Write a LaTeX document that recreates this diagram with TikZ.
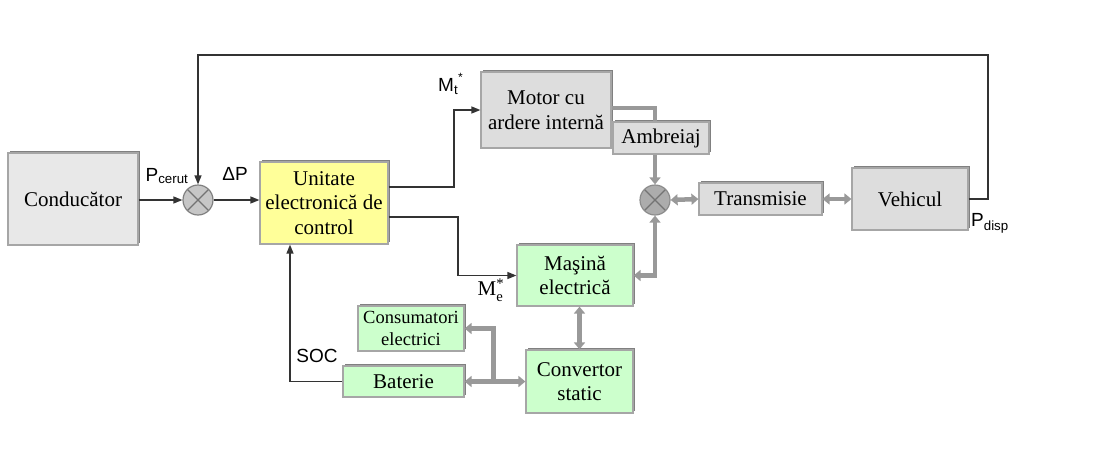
\documentclass[tikz,border=0pt]{standalone}
\usepackage{fontspec}
\setmainfont{Liberation Serif}
\setsansfont{Liberation Sans}
\usepackage{amsmath}
\usepackage{tikz}
\usetikzlibrary{positioning, arrows.meta, shadows, calc}

\definecolor{boxgray}{HTML}{DDDDDD}
\definecolor{condgray}{HTML}{E8E8E8}
\definecolor{ecuyellow}{HTML}{FFFF99}
\definecolor{elgreen}{HTML}{CCFFCC}
\definecolor{sigcol}{HTML}{333333}
\definecolor{pwrcol}{HTML}{999999}

\begin{document}
\begin{tikzpicture}[x=1pt, y=-1pt,
  blk/.style={rectangle, draw=gray!70, line width=1.2pt, fill=boxgray, align=center, inner sep=0pt, font=\fontsize{21}{24.5}\selectfont, drop shadow={shadow xshift=2.2pt, shadow yshift=2.2pt, fill=gray, opacity=1}},
  small/.style={font=\fontsize{18.5}{22}\selectfont},
  sum/.style={circle, draw=gray, line width=1.2pt, fill=gray!45, minimum size=30pt, inner sep=0pt, path picture={\draw[gray!90!black, line width=1.2pt] (path picture bounding box.north west) -- (path picture bounding box.south east) (path picture bounding box.north east) -- (path picture bounding box.south west);}},
  sig/.style={->, >={Triangle[length=9pt, width=7pt]}, line width=1.3pt, draw=sigcol},
  pwr/.style={>={Triangle[length=7pt, width=11pt]}, line width=4.5pt, draw=pwrcol},
  lbl/.style={font=\sffamily\fontsize{19}{22}\selectfont, inner sep=0pt}
]
  \useasboundingbox (0,0) rectangle (1102,451);

  % blocks
  \node[blk, fill=condgray, minimum width=130pt, minimum height=92pt] (cond) at (73,199) {Conducător};
  \node[blk, fill=ecuyellow, minimum width=128pt, minimum height=82pt] (ecu) at (324,203) {Unitate\\electronică de\\control};
  \node[blk, minimum width=130pt, minimum height=76pt] (motor) at (546,110) {Motor cu\\ardere internă};
  \node[blk, minimum width=96pt, minimum height=32pt] (ambr) at (661,138) {Ambreiaj};
  \node[blk, minimum width=123pt, minimum height=32pt] (trans) at (760.5,199) {Transmisie};
  \node[blk, minimum width=116pt, minimum height=62pt] (veh) at (910,199) {Vehicul};
  \node[blk, fill=elgreen, minimum width=116pt, minimum height=61pt] (mel) at (575,275.5) {Maşină\\electrică};
  \node[blk, small, fill=elgreen, minimum width=106pt, minimum height=45pt] (cons) at (411,328.5) {Consumatori\\electrici};
  \node[blk, fill=elgreen, minimum width=121pt, minimum height=31pt] (bat) at (403.5,381.5) {Baterie};
  \node[blk, fill=elgreen, minimum width=107pt, minimum height=63pt] (conv) at (579.5,381.5) {Convertor\\static};

  % summing points
  \node[sum] (sum1) at (198,200) {};
  \node[sum, fill=gray!65, draw=gray!90] (sum2) at (655,200) {};

  % signal lines
  \coordinate (fbR) at (988,55);
  \coordinate (fbL) at (198,55);
  \coordinate (mt) at (454,110);
  \coordinate (me) at (458,275.5);
  \draw[sig] (cond.east |- sum1) -- (sum1);
  \draw[sig] (sum1) -- (ecu.west |- sum1);
  \draw[sig] (veh.east) -| (fbR) -- (fbL) -- (sum1.north);
  \draw[sig] ([yshift=16pt]ecu.east) -| (mt) -- (motor.west);
  \draw[sig] ([yshift=-14pt]ecu.east) -| (me) -- (mel.west);
  \draw[sig] (bat.west) -| ([xshift=-34pt]ecu.south);

  % power flow
  \draw[pwr] ([yshift=2pt]motor.east) -| ([xshift=-6pt]ambr.north);
  \draw[pwr, ->] ([xshift=-6pt]ambr.south) -- (sum2.north);
  \draw[pwr, <->] (sum2.east) -- (trans.west);
  \draw[pwr, <->] (trans.east) -- (veh.west);
  \draw[pwr, <->] (mel.east) -| (sum2.south);
  \draw[pwr, <->] (conv.north |- mel.south) -- (conv.north);
  \draw[pwr, <->] (bat.east) -- (conv.west);
  \draw[pwr, ->] ([xshift=29pt]bat.east) |- (cons.east);

  % labels
  \node[lbl] (lpc) at (167,176) {P$_{\text{cerut}}$};
  \node[lbl] (ldp) at (235,174) {ΔP};
  \node[lbl, anchor=west] (lmt) at (438,84) {M$_{\text{t}}$\raisebox{10pt}{\fontsize{12}{12}\selectfont *}};
  \node[font=\fontsize{21}{24}\selectfont, inner sep=0pt] (lme) at (491,290) {M$_{\text{e}}^{\text{*}}$};
  \node[lbl] (lpd) at (990,223) {P$_{\text{disp}}$};
  \node[lbl] (lsoc) at (317,356) {SOC};
\end{tikzpicture}
\end{document}
